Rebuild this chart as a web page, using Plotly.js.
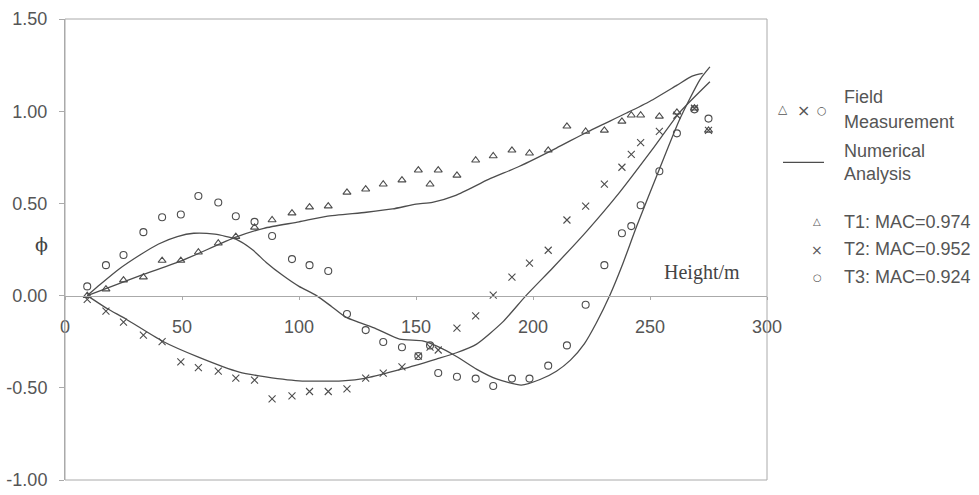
<!DOCTYPE html>
<html>
<head>
<meta charset="utf-8">
<script src="https://cdn.plot.ly/plotly-3.0.1.min.js"></script>
<style>html,body{margin:0;padding:0;background:#fff;}#chart{width:979px;height:495px;}</style>
</head>
<body>
<div id="chart"></div>
<script>
// Measurement heights (m)
var heights = [9.5, 17.5, 25, 33.5, 41.5, 49.5, 57, 65.5, 73, 81, 88.5, 97, 104.5, 112.5, 120.5, 128.5, 136, 144, 151, 156, 159.5, 167.5, 175.5, 183, 191, 198.5, 206.5, 214.5, 222.5, 230.5, 238, 242, 246, 254, 261.5, 269, 275];
// Field measurement mode shapes
var t1Field = [0.00, 0.035, 0.084, 0.10, 0.19, 0.19, 0.235, 0.284, 0.32, 0.37, 0.41, 0.447, 0.48, 0.485, 0.56, 0.577, 0.604, 0.626, 0.68, 0.604, 0.68, 0.652, 0.734, 0.757, 0.788, 0.772, 0.788, 0.918, 0.89, 0.896, 0.945, 0.978, 0.978, 0.972, 0.994, 1.016, 0.896];
var t2Field = [-0.02, -0.084, -0.144, -0.214, -0.25, -0.36, -0.39, -0.41, -0.447, -0.458, -0.56, -0.544, -0.52, -0.52, -0.506, -0.447, -0.42, -0.387, -0.328, -0.28, -0.295, -0.176, -0.11, 0.003, 0.10, 0.176, 0.246, 0.41, 0.485, 0.604, 0.696, 0.766, 0.83, 0.89, 0.978, 1.016, 0.896];
var t3Field = [0.05, 0.165, 0.22, 0.344, 0.425, 0.44, 0.54, 0.505, 0.43, 0.40, 0.323, 0.198, 0.165, 0.133, -0.10, -0.187, -0.252, -0.28, -0.328, -0.27, -0.42, -0.44, -0.45, -0.49, -0.45, -0.45, -0.38, -0.27, -0.05, 0.165, 0.338, 0.377, 0.49, 0.674, 0.88, 1.01, 0.96];
// Numerical analysis curves
var t1NumX = [9.5, 20, 33.8, 50, 73, 85, 100, 111.7, 128.8, 140, 150, 157, 167, 181, 194, 210, 223, 240, 250, 261.4, 268, 272.5];
var t1NumY = [0.0, 0.05, 0.116, 0.19, 0.317, 0.365, 0.40, 0.43, 0.452, 0.47, 0.496, 0.506, 0.544, 0.63, 0.70, 0.80, 0.886, 0.99, 1.054, 1.14, 1.19, 1.205];
var t2NumX = [9.5, 18, 26, 41.5, 57.3, 74.5, 83, 100, 118.5, 128.8, 144.2, 158.7, 167.3, 175.9, 187, 197, 208.4, 223, 237, 251, 262.7, 275.6];
var t2NumY = [0.0, -0.07, -0.127, -0.246, -0.335, -0.415, -0.435, -0.462, -0.462, -0.447, -0.398, -0.344, -0.31, -0.263, -0.144, 0.0, 0.15, 0.35, 0.56, 0.793, 0.994, 1.16];
var t3NumX = [9.5, 15, 23, 32, 40, 48, 55, 64, 73, 80, 86, 93, 100, 107.5, 114, 120, 133, 143, 152.8, 158.7, 167.3, 176, 184.4, 195, 203, 210, 216, 222, 227, 232.8, 238, 244.3, 254, 262.7, 271.3, 275.6];
var t3NumY = [0.0, 0.06, 0.143, 0.22, 0.28, 0.32, 0.338, 0.333, 0.306, 0.25, 0.18, 0.11, 0.05, 0.0, -0.06, -0.117, -0.18, -0.236, -0.246, -0.273, -0.33, -0.40, -0.452, -0.485, -0.455, -0.41, -0.35, -0.26, -0.15, 0.0, 0.16, 0.376, 0.685, 0.956, 1.17, 1.24];
var xTicks = [0, 50, 100, 150, 200, 250, 300];
var yTicks = [-1.0, -0.5, 0.0, 0.5, 1.0, 1.5];
var legendLabels = ['T1: MAC=0.974', 'T2: MAC=0.952', 'T3: MAC=0.924'];

var ink = '#4d4d4d';
function markers(y, sym, name) {
  return {x: heights, y: y, type: 'scatter', mode: 'markers', name: name,
    marker: {symbol: sym, size: 7, color: ink, line: {color: ink, width: 1.1}}, showlegend: false};
}
function curve(x, y) {
  return {x: x, y: y, type: 'scatter', mode: 'lines', line: {color: ink, width: 1.3, shape: 'spline', smoothing: 0.6}, showlegend: false};
}
var data = [
  curve(t1NumX, t1NumY), curve(t2NumX, t2NumY), curve(t3NumX, t3NumY),
  markers(t1Field, 'triangle-up-open', legendLabels[0]),
  markers(t2Field, 'x-thin-open', legendLabels[1]),
  markers(t3Field, 'circle-open', legendLabels[2])
];

var L = 65, R = 767, T = 18.5, B = 480;
function px(x) { return (x - L) / (R - L); }
function py(y) { return (B - y) / (B - T); }
var font = {family: 'Liberation Sans, Arial, sans-serif', size: 18, color: '#555'};
var ann = [];
function addText(text, x, y, opts) {
  ann.push(Object.assign({text: text, xref: 'paper', yref: 'paper', x: px(x), y: py(y), showarrow: false,
    xanchor: 'left', yanchor: 'middle', font: font}, opts || {}));
}
function glyph(size) { return Object.assign({}, font, {family: 'DejaVu Sans, sans-serif', size: size}); }
addText('\u25B3', 783, 109, {xanchor: 'center', font: glyph(12)});
addText('\u00D7', 803, 110, {xanchor: 'center', font: glyph(16)});
addText('\u25CB', 822, 110, {xanchor: 'center', font: glyph(11)});
addText('Field', 842, 97);
addText('Measurement', 842, 122);
addText('Numerical', 842, 151);
addText('Analysis', 842, 174);
addText('\u25B3', 817, 221, {xanchor: 'center', font: glyph(10)});
addText('\u00D7', 817, 250, {xanchor: 'center', font: glyph(14)});
addText('\u25CB', 817, 277, {xanchor: 'center', font: glyph(10)});
addText(legendLabels[0], 842, 222);
addText(legendLabels[1], 842, 249);
addText(legendLabels[2], 842, 277);
addText('Height/m', 702, 272, {xanchor: 'center', font: {family: 'Liberation Serif, Times New Roman, serif', size: 20, color: '#444'}});
addText('\u03D5', 41, 244, {xanchor: 'center', font: {family: 'DejaVu Serif, Liberation Serif, serif', size: 19, color: '#444'}});

var layout = {
  width: 979, height: 495,
  margin: {l: L, r: 979 - R, t: T, b: 495 - B},
  paper_bgcolor: '#fff', plot_bgcolor: '#fff',
  font: font,
  showlegend: false,
  xaxis: {range: [0, 300], tickvals: xTicks, ticktext: xTicks.map(String), showgrid: false, zeroline: false,
    showline: true, linecolor: '#aaa', linewidth: 1, ticks: 'outside', ticklen: 3, tickcolor: '#aaa',
    anchor: 'free', position: 0.4, ticklabelstandoff: 12, tickfont: font},
  yaxis: {range: [-1, 1.5], tickvals: yTicks, ticktext: yTicks.map(function(v){return v.toFixed(2);}),
    showgrid: false, zeroline: false, showline: true, linecolor: '#aaa', linewidth: 1,
    ticks: 'outside', ticklen: 5, tickcolor: '#aaa', ticklabelstandoff: 8, tickfont: font},
  shapes: [
    {type: 'rect', xref: 'paper', yref: 'paper', x0: 0, x1: 1, y0: 0, y1: 1, line: {color: '#aaa', width: 1}},
    {type: 'line', xref: 'paper', yref: 'paper', x0: px(783), x1: px(824), y0: py(162), y1: py(162), line: {color: ink, width: 1.3}}
  ],
  annotations: ann
};
Plotly.newPlot('chart', data, layout, {staticPlot: true, displayModeBar: false});
</script>
</body>
</html>
